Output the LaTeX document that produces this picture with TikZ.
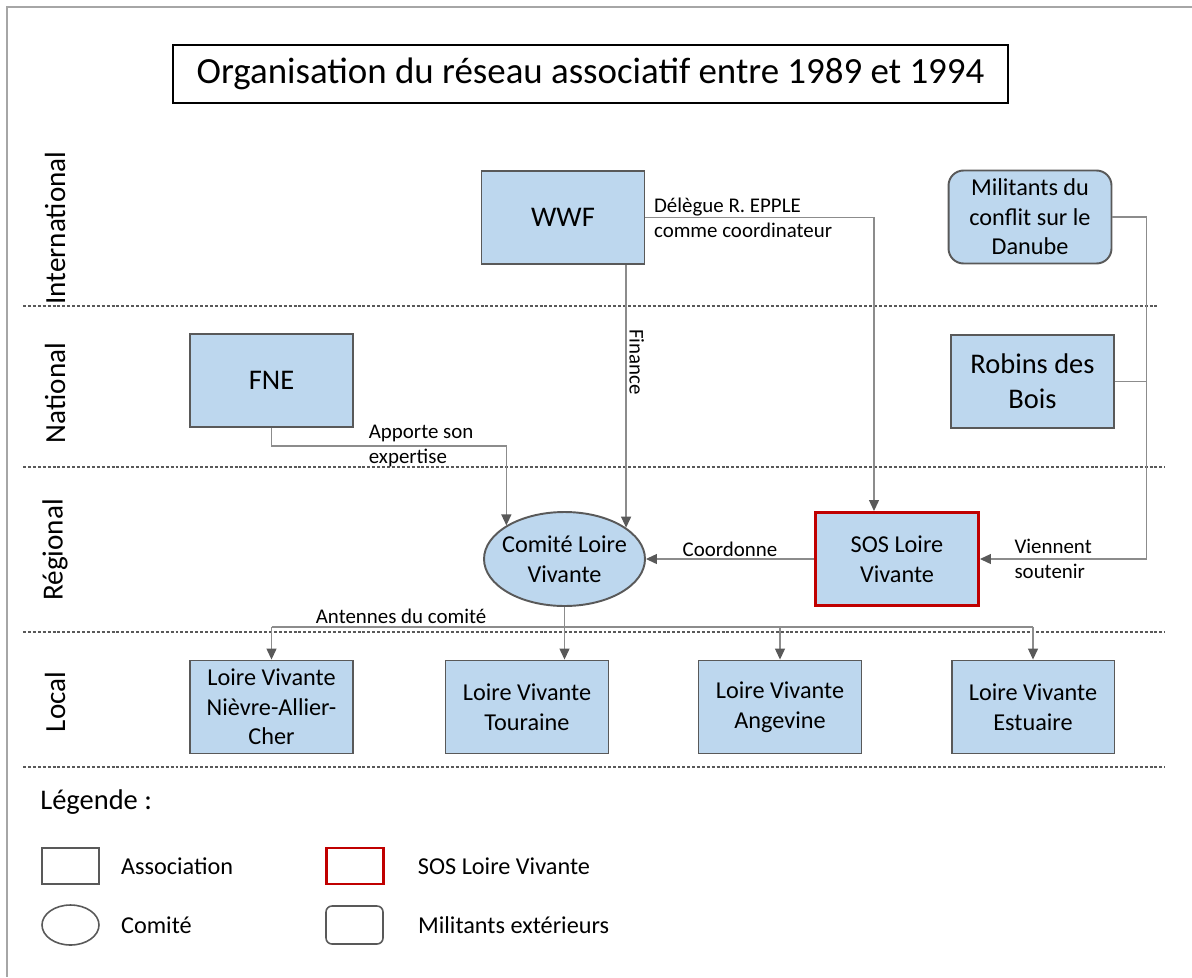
\documentclass[tikz,border=0pt]{standalone}
\usepackage{fontspec}
\setmainfont{Carlito}
\usetikzlibrary{shapes.geometric, arrows.meta, positioning}

\definecolor{boxblue}{HTML}{BDD7EE}
\definecolor{boxgray}{HTML}{595959}
\definecolor{wiregray}{HTML}{8C8C8C}
\definecolor{sosred}{HTML}{C00000}
\definecolor{framegray}{HTML}{A6A6A6}

\newcommand\ttlfnt{\fontsize{21}{25}\selectfont}
\newcommand\bigfnt{\fontsize{16.2}{20}\selectfont}
\newcommand\nodefnt{\fontsize{13.8}{16.8}\selectfont}
\newcommand\lblfnt{\fontsize{11.9}{14.2}\selectfont}
\newcommand\axisfnt{\fontsize{16.6}{20}\selectfont}

\tikzset{
    base/.style={draw=boxgray, line width=1.1pt, align=center, fill=boxblue, inner sep=0pt},
    assoc/.style={base, rectangle, minimum width=3.26cm, minimum height=1.86cm, font=\nodefnt},
    bigassoc/.style={assoc, font=\bigfnt},
    sosbox/.style={assoc, draw=sosred, line width=1.7pt},
    militant/.style={assoc, rounded corners=0.3cm},
    comite/.style={base, ellipse, inner xsep=-0.13cm, minimum width=3.22cm, minimum height=1.88cm, font=\nodefnt},
    titlebox/.style={draw=black, line width=0.7pt, minimum width=16.7cm, minimum height=1.16cm, font=\ttlfnt},
    axis/.style={rotate=90, font=\axisfnt, inner sep=0pt},
    lbl/.style={font=\lblfnt, align=left, inner sep=0pt},
    level/.style={draw=boxgray, line width=0.6pt, dash pattern=on 1.7pt off 1.1pt},
    wire/.style={draw=wiregray, line width=0.7pt},
    conn/.style={wire, -{Triangle[length=0.22cm, width=0.2cm, color=boxgray]}},
    legbox/.style={draw=boxgray, line width=0.9pt, inner sep=0pt, minimum width=1.14cm, minimum height=0.72cm},
    legtxt/.style={font=\nodefnt, inner sep=0pt}
}

\begin{document}
\begin{tikzpicture}[x=0.02cm, y=-0.02cm]
    \useasboundingbox (0,0) rectangle (1192,977);
    \draw[framegray, line width=1.2pt] (1192,7) -- (7,7) -- (7,977);

    \node (title) [titlebox] at (590.5,74) {Organisation du réseau associatif entre 1989 et 1994};

    % niveaux
    \foreach \yy/\xe in {306/1157, 467/1165, 632/1165, 767/1165}
        \draw[level] (23,\yy) -- (\xe,\yy);
    \node (intl) [axis] at (55,228) {International};
    \node (natl) [axis] at (55,393) {National};
    \node (regl) [axis] at (55,550) {Régional};
    \node (locl) [axis] at (55,702) {Local};

    % acteurs
    \node (wwf) [bigassoc] at (563,217.5) {WWF};
    \node (mil) [militant] at (1030,217) {Militants du\\conflit sur le\\Danube};
    \node (fne) [bigassoc] at (271.5,380.5) {FNE};
    \node (robins) [bigassoc] at (1032.5,381.5) {Robins des\\Bois};
    \node (comite) [comite] at (564.5,559) {Comité Loire\\Vivante};
    \node (sos) [sosbox] at (897,559) {SOS Loire\\Vivante};
    \node (lv1) [assoc] at (271.5,707) {Loire Vivante\\Nièvre-Allier-\\Cher};
    \node (lv2) [assoc] at (527,707) {Loire Vivante\\Touraine};
    \node (lv3) [assoc] at (780,707) {Loire Vivante\\Angevine};
    \node (lv4) [assoc] at (1033,707) {Loire Vivante\\Estuaire};

    % liens
    \draw [conn] (wwf.east) -| node[lbl, at start, anchor=west, xshift=0.16cm] {Délègue R. EPPLE\\comme coordinateur} ([xshift=-0.46cm]sos.north);
    \draw [conn] (wwf.south -| comite.27) -- node[lbl, pos=0.37, rotate=-90, anchor=south, inner sep=1.5pt] {Finance} (comite.27);
    \draw [conn] (fne.south) -- ++(0,18) -| node[lbl, pos=0.206, anchor=west] {Apporte son\\expertise} (comite.150);
    \draw [conn] (sos.west) -- node[lbl, midway, above, inner sep=1pt] {Coordonne} (comite.east);
    \draw [conn] (mil.east) -- ++(34,0) coordinate (milbend) |- node[lbl, pos=0.898, anchor=west] {Viennent\\soutenir} (sos.east);
    \draw [wire] (robins.east) -- (robins.east -| milbend);

    \draw [wire] (comite.south) -- ++(0,20) coordinate (hub);
    \draw [wire] (lv1.north |- hub) -- node[lbl, pos=0.054, anchor=south west, inner sep=1.5pt] {Antennes du comité} (lv4.north |- hub);
    \draw [conn] (hub) -- (hub |- lv2.north);
    \foreach \n in {lv1, lv3, lv4}
        \draw [conn] (\n.north |- hub) -- (\n.north);

    % légende
    \node (legend) [anchor=west, font=\bigfnt, inner sep=0pt] at (40,802) {Légende :};
    \node (legassoc) [legbox] at (70.5,866) {};
    \node (legcomite) [legbox, ellipse, minimum height=0.8cm] at (70.5,925) {};
    \node (legsos) [legbox, draw=sosred, line width=1.3pt] at (355,866) {};
    \node (legmil) [legbox, rounded corners=0.12cm, minimum height=0.76cm] at (354.5,925) {};
    \node (tassoc) [legtxt, right=0.42cm of legassoc] {Association};
    \node (tcomite) [legtxt, right=0.42cm of legcomite] {Comité};
    \node (tsos) [legtxt, right=0.66cm of legsos] {SOS Loire Vivante};
    \node (tmil) [legtxt, right=0.68cm of legmil] {Militants extérieurs};
\end{tikzpicture}
\end{document}
